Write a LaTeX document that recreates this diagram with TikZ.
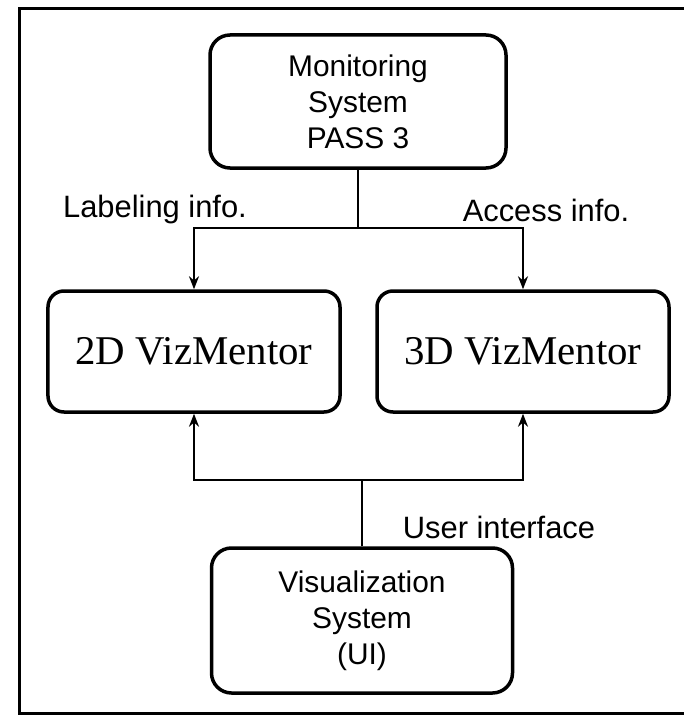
\documentclass[tikz,border=0pt]{standalone}
\usepackage{fontspec}
\setmainfont{Liberation Sans}
\newfontfamily\vizfont{Liberation Serif}
\usepackage{tikz}
\usetikzlibrary{arrows.meta,positioning}

\begin{document}
\begin{tikzpicture}[
  x=1bp, y=-1bp,
  sysbox/.style={draw, line width=3.5bp, rounded corners=20bp, align=center, minimum width=296bp, minimum height=133bp, inner sep=0pt, font=\fontsize{30}{36}\selectfont},
  vizbox/.style={draw, line width=3.5bp, rounded corners=16bp, align=center, minimum width=292bp, minimum height=121bp, inner sep=0pt, font=\vizfont\fontsize{41}{48}\selectfont},
  lbl/.style={font=\fontsize{31}{34}\selectfont},
  link/.style={line width=2bp},
  arrow/.style={-{Stealth[length=13bp,width=10bp]}, line width=2bp}
]
\useasboundingbox (0,0) rectangle (684,718);
\draw[line width=3bp] (19,9) rectangle (705,713);

\node[sysbox] (mon) at (358,101.5) {Monitoring\\System\\PASS 3};
\node[vizbox] (viz2d) at (194,351.5) {2D VizMentor};
\node[vizbox] (viz3d) at (523,351.5) {3D VizMentor};
\node[sysbox, minimum width=301bp, minimum height=145bp] (vis) at (362,620.5) {Visualization\\System\\(UI)};

\coordinate (split) at (358,228);
\coordinate (merge) at (362,480);

\draw[link] (mon) -- (split);
\draw[arrow] (split) -| (viz2d.north);
\draw[arrow] (split) -| (viz3d.north);
\draw[link] (vis) -- (merge);
\draw[arrow] (merge) -| (viz2d.south);
\draw[arrow] (merge) -| (viz3d.south);

\node[lbl] (labinfo) at (155,210) {Labeling info.};
\node[lbl] (accinfo) at (546,210) {Access info.};
\node[lbl] (uiinfo) at (499,527) {User interface};
\end{tikzpicture}
\end{document}
